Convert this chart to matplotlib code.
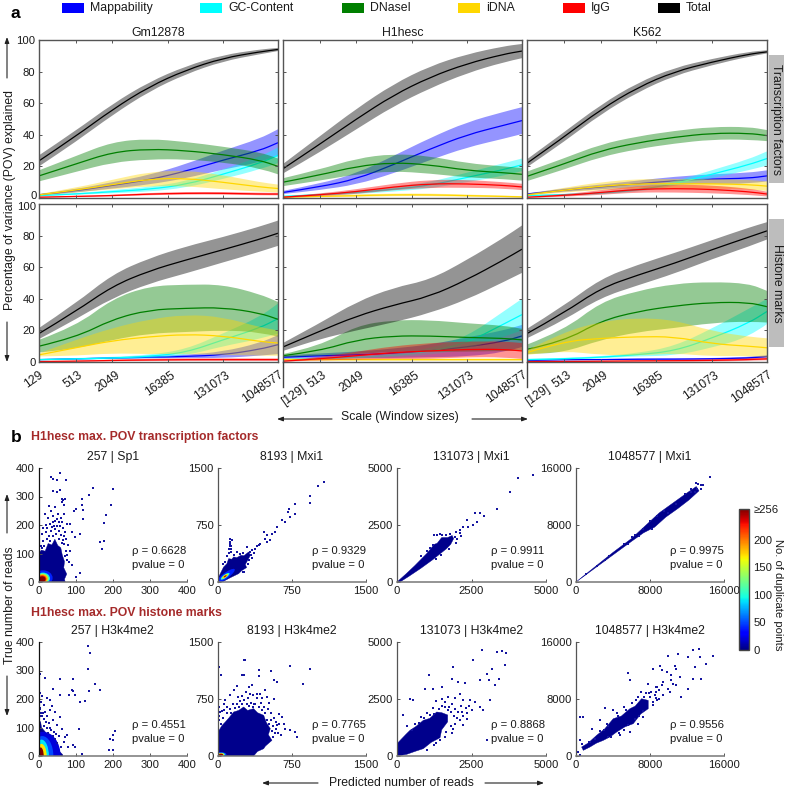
import matplotlib
matplotlib.use("Agg")
import matplotlib.pyplot as plt
from matplotlib.patches import Rectangle, Polygon, Ellipse, PathPatch
from matplotlib.path import Path
from matplotlib.cm import ScalarMappable
from matplotlib.colors import Normalize

plt.rcParams['font.family'] = ['Liberation Sans', 'DejaVu Sans']
W, H = 785, 791
TXT = '#1a1a1a'
FS = 8.8
FS_TICK = 8.1

scales = [129, 513, 2049, 8193, 32769, 131073, 524289, 1048577]
tick_scales = [129, 513, 2049, 16385, 131073, 1048577]
tick_names = ['129', '513', '2049', '16385', '131073', '1048577']

# POV means and half band widths, one pair per signal and panel
gm_tf_map = [2, 4.5, 8, 11.5, 17, 24, 30, 35]
gm_tf_map_w = [.5, 1, 2, 3, 4.5, 6, 7.5, 8.5]
gm_tf_gc = [1.5, 2.5, 4, 5.5, 8.5, 15, 22, 27]
gm_tf_gc_w = [.5, .5, 1, 1.5, 2, 3, 4, 5]
gm_tf_dn = [14, 21.5, 29, 31, 30, 27.5, 24, 20]
gm_tf_dn_w = [3.5, 5, 6.5, 6.5, 5.5, 5, 5, 5]
gm_tf_id = [2, 5, 8.5, 12, 12.5, 10, 7, 6]
gm_tf_id_w = [.5, 1.5, 3, 4.5, 5, 4.5, 3, 2.5]
gm_tf_ig = [.5, 1, 1.5, 2.5, 3, 3, 2.5, 2.5]
gm_tf_ig_w = [.3, .3, .5, .7, .8, .8, .8, .8]
gm_tf_tot = [23.5, 39, 56, 70.5, 81, 88.5, 92.5, 94]
gm_tf_tot_w = [3.5, 3.5, 3.5, 3, 2.5, 2, 1.5, 1]

h1_tf_map = [3.5, 7, 12, 21, 31, 40, 46, 49]
h1_tf_map_w = [1, 2, 3.5, 5.5, 7, 8, 8.5, 8.5]
h1_tf_gc = [1, 2, 3.5, 5.5, 8, 13, 18, 21]
h1_tf_gc_w = [.5, .5, 1, 1.5, 2, 3, 4, 4]
h1_tf_dn = [10, 14.5, 20, 22.5, 21, 17.5, 16, 15]
h1_tf_dn_w = [2.5, 3.5, 5, 5.5, 5.5, 4.5, 4, 4]
h1_tf_id = [.5, 1, 1.5, 2, 2, 1.5, 1, .7]
h1_tf_id_w = [.3, .5, .8, .8, .8, .7, .5, .5]
h1_tf_ig = [.5, 2, 4, 7, 9, 9, 8, 7]
h1_tf_ig_w = [.3, .8, 1.5, 2, 2.5, 2.5, 2, 2]
h1_tf_tot = [18.5, 34, 50, 65, 76.5, 85, 91, 93]
h1_tf_tot_w = [3, 5, 6.5, 7, 7, 6, 5, 4.5]

k5_tf_map = [2.5, 5, 7, 9, 11, 12, 12.5, 14]
k5_tf_map_w = [.5, 1, 1.5, 2, 2.5, 3, 3.5, 3.5]
k5_tf_gc = [1.5, 2, 3, 5, 9, 15, 21, 25]
k5_tf_gc_w = [.5, .5, .7, 1, 1.5, 2.5, 3.5, 4.5]
k5_tf_dn = [13.7, 21.5, 30, 35, 38.5, 41, 41, 39.5]
k5_tf_dn_w = [3, 3.5, 4, 4, 4, 4, 4, 3.5]
k5_tf_id = [2, 5, 7.5, 9, 9, 9, 8.5, 7.5]
k5_tf_id_w = [.5, 1.5, 2.5, 3, 3, 3, 3, 3]
k5_tf_ig = [.5, 1.5, 3.5, 5.5, 6, 5.5, 4, 2.5]
k5_tf_ig_w = [.3, .7, 1.5, 2, 2.5, 2.5, 2, 1.5]
k5_tf_tot = [22, 38.5, 56, 70, 80, 86, 91, 92.5]
k5_tf_tot_w = [2.5, 3, 3, 3, 2.5, 2, 1.5, 1]

gm_hm_map = [1.5, 2, 2.5, 3, 3.5, 4.5, 8, 11]
gm_hm_map_w = [.3, .4, .5, .7, 1, 2, 4, 6]
gm_hm_gc = [1.5, 2, 2.5, 3.5, 6, 14, 21.5, 27.5]
gm_hm_gc_w = [.5, .5, .7, 1, 2, 4, 7, 9.5]
gm_hm_dn = [10, 15.5, 27, 33, 34, 34.5, 31, 27]
gm_hm_dn_w = [4, 7, 13, 15, 15, 14.5, 12, 11]
gm_hm_id = [4.5, 9, 13.5, 16, 17.5, 16.5, 13, 12]
gm_hm_id_w = [1, 5, 8, 11, 12.5, 12, 9, 8]
gm_hm_ig = [.3, .5, 1, 1.3, 1.5, 1.5, 1.5, 1.5]
gm_hm_ig_w = [.3, .3, .5, .7, .8, .8, .8, .8]
gm_hm_tot = [18, 32, 48, 57.7, 64.6, 71, 77.7, 81.5]
gm_hm_tot_w = [3.5, 5, 7.5, 8, 8.5, 8, 8, 8]

h1_hm_map = [3, 4, 4.5, 5.5, 7, 9.5, 13, 16.5]
h1_hm_map_w = [1, 1.5, 2, 3, 4, 6, 7, 7]
h1_hm_gc = [1.5, 2, 3, 4, 6.5, 12, 24, 30]
h1_hm_gc_w = [.5, .5, .7, 1, 2, 4, 8, 10]
h1_hm_dn = [4, 7, 14, 16.5, 16.5, 15.5, 15, 14]
h1_hm_dn_w = [1, 3, 9, 10, 10, 9, 8, 7]
h1_hm_id = [1.5, 1.5, 1.5, 1.5, 1.5, 1.5, 1.5, 1.5]
h1_hm_id_w = [.7, .7, .7, .7, .7, .7, .7, .7]
h1_hm_ig = [.5, 2, 4, 6, 7, 8, 8, 7]
h1_hm_ig_w = [.3, 1, 2.5, 4, 5, 5, 5, 5]
h1_hm_tot = [9.5, 19.5, 29, 36, 41.5, 52, 64.6, 71.4]
h1_hm_tot_w = [2.5, 5, 9, 11, 10.5, 12.5, 14, 15]

k5_hm_map = [1, 1.5, 1.5, 1.8, 1.8, 2, 2.5, 3.5]
k5_hm_map_w = [.3, .3, .3, .4, .4, .5, .7, .8]
k5_hm_gc = [1.5, 2, 3, 4.6, 7, 15, 24.6, 32]
k5_hm_gc_w = [.5, .5, .7, 1, 3, 6, 9, 8]
k5_hm_dn = [8, 13, 26, 32, 35.5, 37.7, 37.7, 35]
k5_hm_dn_w = [3, 7, 12, 13, 14, 13, 12, 10]
k5_hm_id = [6, 13, 15, 16, 16, 11.6, 10, 9]
k5_hm_id_w = [1.5, 6, 10.5, 12, 10.5, 8, 6, 6]
k5_hm_ig = [.3, .3, .5, .7, .8, 1, 1.5, 2]
k5_hm_ig_w = [.3, .3, .3, .4, .5, .7, .8, .9]
k5_hm_tot = [18, 31, 46.7, 55, 62.5, 71, 79, 83]
k5_hm_tot_w = [3, 4.5, 6, 6.5, 6.5, 6, 6, 5.5]

sp1_blob = [(0, 0), (0, 100), (8, 112), (18, 108), (26, 135), (36, 130), (44, 150), (52, 128), (60, 120), (64, 95),
            (70, 72), (68, 50), (76, 28), (70, 10), (72, 0)]
sp1_pts = [(33, 368), (40, 362), (58, 382), (49, 359), (75, 359), (39, 319), (49, 316), (58, 322), (63, 292),
           (67, 287), (72, 292), (63, 281), (117, 290), (135, 304), (146, 330), (202, 327), (102, 257), (117, 269),
           (121, 251), (96, 249), (195, 269), (182, 236), (177, 208), (121, 220), (76, 205), (84, 205), (90, 175),
           (111, 170), (166, 140), (177, 144), (171, 117), (99, 158), (112, 32), (102, 18), (68, 270), (45, 262),
           (28, 265), (33, 248), (18, 240), (25, 225), (40, 232), (52, 240), (60, 225), (70, 240), (62, 210),
           (45, 215), (30, 205), (20, 200), (12, 190), (36, 192), (50, 198), (66, 190), (72, 175), (10, 170),
           (20, 175), (75, 150), (80, 130), (85, 110), (78, 95), (82, 70), (90, 60), (12, 145), (6, 125),
           (40, 212), (34, 178), (44, 185), (56, 178), (28, 160), (48, 170), (60, 165), (66, 148), (70, 132),
           (22, 150), (16, 128), (30, 145), (56, 150), (62, 138), (74, 110), (72, 92), (42, 198), (24, 188),
           (54, 210), (38, 160), (68, 160), (78, 78), (10, 118), (57, 195), (50, 222)]
mxi8_blob = [(0, 0), (7, 66), (57, 197), (90, 240), (108, 307), (140, 300), (159, 330), (190, 320), (233, 351), (262, 345),
             (311, 395), (328, 351), (277, 230), (290, 190), (240, 150), (209, 110), (125, 57), (41, 0)]
mxi8_pts = [(1071, 1316), (1010, 1263), (936, 1127), (936, 1039), (784, 1030), (716, 965), (784, 899), (733, 855),
            (706, 921), (649, 811), (682, 789), (598, 724), (581, 658), (547, 636), (497, 614), (480, 570), (463, 658),
            (412, 482), (429, 495), (378, 439), (294, 461), (118, 561), (142, 548), (125, 504), (132, 439), (108, 439),
            (193, 395), (226, 373), (328, 395), (334, 351), (497, 526), (530, 548), (395, 469), (267, 132), (311, 285),
            (125, 530), (135, 480), (118, 470), (128, 400), (115, 380), (90, 340), (160, 360), (250, 380), (345, 420),
            (360, 380), (340, 320), (300, 240), (70, 260), (50, 240), (250, 130)]
mxi131_blob = [(0, 0), (300, 350), (600, 720), (1000, 1250), (1250, 1650), (1350, 1700), (1500, 1950), (1700, 1950),
               (1850, 2040), (1900, 1900), (1800, 1650), (1650, 1450), (1200, 980), (800, 600), (400, 250), (100, 0)]
mxi131_pts = [(4564, 4693), (4060, 4561), (3792, 3960), (3356, 3202), (2617, 3026), (2785, 3026), (2919, 2895),
              (2685, 2632), (2550, 2500), (2349, 2719), (2215, 2412), (2383, 2412), (2130, 2300), (1510, 2061),
              (1208, 1622), (1990, 2200), (2100, 2150), (1250, 2070), (1350, 2050), (1450, 2110), (1120, 1500),
              (1000, 1380), (800, 1130), (1650, 2080), (1780, 2100), (1950, 1980), (2020, 1880), (1980, 1720),
              (1750, 1450), (1480, 1180), (1300, 1000), (2150, 2000)]
mxi104_blob = [(0, 0), (4000, 4150), (6000, 6100), (7000, 7300), (7500, 7900), (9000, 9700), (10500, 11100), (12000, 12500), (13000, 13400),
               (13300, 12800), (12200, 11500), (11000, 10300), (9700, 9100), (8500, 7700), (7300, 6900), (6000, 5700), (2000, 1900)]
mxi104_pts = [(14530, 14720), (13020, 13880), (13560, 13550), (13740, 13550), (13130, 13080), (12840, 12620),
              (12480, 13000), (11800, 12300), (1100, 1150), (2300, 2200), (3100, 3050), (5200, 5300), (6100, 6350),
              (6800, 6500), (7200, 7450), (13500, 13100), (13200, 13700), (12400, 12700), (10800, 11000), (9500, 10000),
              (8800, 9300), (8000, 8500), (9900, 9700), (8200, 7500), (6400, 6600), (5600, 5400), (3600, 3700)]
h3_257_blob = [(0, 0), (0, 130), (6, 118), (8, 100), (18, 85), (25, 60), (32, 50), (45, 25), (55, 18), (65, 5), (65, 0)]
h3_257_pts = [(132, 385), (139, 363), (132, 304), (153, 251), (165, 230), (135, 227), (90, 233), (94, 228), (94, 269),
              (58, 271), (40, 236), (81, 213), (99, 213), (112, 189), (124, 193), (58, 214), (18, 274), (4, 287),
              (205, 87), (202, 72), (193, 61), (200, 55), (191, 22), (200, 22), (108, 96), (76, 73), (72, 67), (94, 37),
              (99, 32), (117, 8), (58, 137), (45, 154), (31, 160), (10, 210), (22, 205), (30, 195), (15, 180), (36, 175),
              (5, 165), (12, 150), (24, 140), (40, 125), (50, 110), (28, 115), (62, 95), (42, 85), (55, 70), (70, 50),
              (80, 30), (3, 220), (8, 190), (18, 155), (30, 100), (38, 70), (5, 140), (14, 130), (20, 118), (34, 92),
              (44, 60), (50, 46), (60, 32), (16, 105), (24, 98), (10, 140), (3, 170), (6, 152), (26, 80), (48, 78)]
h3_8k_blob = [(0, 0), (0, 316), (40, 400), (74, 447), (110, 500), (159, 579), (210, 600), (260, 645), (300, 600), (361, 623),
              (400, 570), (463, 535), (490, 440), (530, 360), (510, 280), (547, 206), (480, 130), (463, 96), (400, 60), (361, 0)]
h3_8k_pts = [(277, 1268), (260, 1259), (7, 1171), (34, 1061), (243, 1061), (260, 1061), (412, 1136), (541, 1114),
             (726, 1180), (929, 1149), (412, 1048), (564, 996), (598, 974), (861, 952), (193, 917), (311, 908),
             (345, 930), (480, 864), (497, 776), (564, 754), (429, 820), (159, 864), (118, 798), (666, 425), (733, 338),
             (784, 316), (801, 250), (615, 557), (649, 513), (598, 404), (682, 360), (7, 469), (24, 579), (57, 689),
             (74, 732), (300, 760), (350, 800), (260, 740), (220, 720), (190, 690), (395, 760), (440, 700), (470, 650),
             (510, 620), (540, 560), (570, 500), (590, 450), (575, 300), (560, 250), (590, 350), (150, 680), (120, 620),
             (90, 560), (50, 500), (30, 420), (15, 520), (330, 700), (420, 640), (500, 480), (520, 420), (380, 680),
             (290, 690), (240, 680), (210, 650), (170, 630), (130, 570), (360, 690), (450, 600), (480, 560), (540, 470),
             (555, 400), (545, 330), (620, 420), (610, 300), (640, 280), (280, 840), (240, 790), (200, 780), (320, 820),
             (400, 810), (450, 760), (520, 700), (90, 640), (60, 610), (40, 590), (10, 640), (350, 640), (310, 660)]
h3_131_blob = [(0, 0), (0, 540), (300, 950), (436, 1126), (640, 1300), (883, 1564), (1100, 1650), (1331, 1930), (1500, 1900), (1700, 1800),
               (1700, 1500), (1500, 1150), (1443, 800), (1150, 600), (883, 322), (600, 200), (324, 73)]
h3_131_pts = [(2864, 4634), (3345, 4561), (3512, 4605), (3658, 4517), (2539, 4196), (1868, 3903), (1085, 3538),
              (3177, 3830), (3031, 3611), (3624, 3977), (3098, 3319), (3434, 3392), (3289, 3099), (2785, 3319),
              (2282, 3202), (2058, 3246), (1834, 3392), (1499, 3026), (1220, 2953), (940, 2953), (436, 2515), (548, 2442),
              (213, 1784), (2785, 2149), (3121, 2442), (2618, 2368), (2450, 2442), (2226, 2442), (2897, 2003), (2338, 1637),
              (2226, 1345), (1890, 1199), (3009, 687), (2170, 1930), (1500, 2500), (1700, 2600), (1950, 2550), (2100, 2700),
              (1300, 2400), (1600, 2350), (2400, 2200), (2500, 2000), (2350, 1900), (2200, 1750), (2100, 1600), (1000, 1900),
              (1200, 2100), (800, 1700), (600, 1400), (350, 1300), (1850, 1000), (1600, 850), (1300, 550),
              (1750, 2150), (1850, 2300), (1950, 2050), (2050, 1950), (1800, 1950), (1900, 1750), (2000, 1650), (1950, 1400),
              (1800, 1300), (1650, 1050), (1500, 2200), (1400, 2050), (1250, 1850), (1100, 1800), (900, 1650), (750, 1450),
              (500, 1150), (1700, 2000), (1600, 2150), (2150, 2200), (2300, 2100), (1450, 680), (1250, 480), (1000, 280)]
h3_104_blob = [(611, 1262), (1300, 1800), (2230, 2897), (3100, 3800), (4029, 5234), (4900, 5600), (5827, 6636), (6400, 7000), (7086, 8037), (7806, 7804), (7806, 6636),
               (7000, 5900), (6187, 4533), (5300, 4100), (4388, 3364), (3700, 2700), (2950, 2196), (2200, 1800), (1511, 1262), (791, 794)]
h3_104_pts = [(13309, 15047), (12662, 14813), (11043, 14346), (9892, 13972), (12122, 13879), (13381, 13879), (14820, 14019),
              (14101, 12944), (12842, 12477), (9065, 12617), (10683, 12617), (10863, 12243), (8345, 12243), (9245, 12009),
              (9784, 11776), (10324, 11308), (11223, 11075), (13561, 10841), (12662, 10841), (12122, 9439), (10504, 10140),
              (9424, 10374), (8705, 9673), (7806, 10140), (5647, 11635), (5827, 10607), (11403, 8271), (10144, 8972),
              (9424, 8505), (8705, 7804), (8345, 7103), (3129, 6776), (432, 5467), (720, 5467), (4029, 6402), (2590, 5000),
              (1690, 3832), (432, 2196), (6727, 4533), (7266, 5467), (5827, 3364), (4748, 2897), (432, 93), (252, 561),
              (612, 1729), (3489, 2664), (8100, 9000), (8500, 8600), (7600, 8800), (7000, 9000), (9000, 9300), (8000, 8300),
              (6500, 7800), (5200, 6900), (4400, 6000), (3400, 4500), (2600, 3500), (6800, 5600), (5600, 4300), (1400, 2000),
              (8300, 7600), (8600, 8200), (7400, 8300), (7900, 8900), (8700, 9000), (6700, 8300), (6000, 7400), (5400, 6400),
              (4500, 5600), (3500, 4200), (3000, 3600), (2000, 2400), (1500, 1900), (7200, 6300), (6400, 5200), (5200, 3700),
              (4600, 3200), (3800, 2600), (8600, 9700), (9300, 10000), (9900, 9400), (10300, 10700), (10800, 10000), (9000, 8000)]

# hot core of the dense panels: centre, width, height, angle, count
sp1_core = [(12, 14, 52, 54, 0, 40), (12, 13, 38, 40, 0, 90), (11, 12, 34, 36, 0, 130), (11, 12, 28, 30, 0, 180),
            (10, 11, 23, 25, 0, 220), (10, 10, 18, 20, 0, 256)]
mxi8_core = [(75, 78, 260, 70, 45, 40), (72, 75, 120, 40, 45, 100), (72, 75, 80, 28, 45, 170), (72, 75, 40, 16, 45, 240)]
h3_257_core = [(12, 0, 95, 170, 0, 20), (10, 0, 60, 140, 0, 50), (8, 0, 40, 115, 0, 90), (8, 0, 28, 85, 0, 170),
               (6, 0, 16, 60, 0, 256)]
h3_8k_core = [(30, 20, 110, 60, 0, 50), (30, 20, 80, 44, 0, 110), (30, 20, 60, 34, 0, 170), (30, 18, 44, 26, 0, 250)]

sc_titles = ['257 | Sp1', '8193 | Mxi1', '131073 | Mxi1', '1048577 | Mxi1',
             '257 | H3k4me2', '8193 | H3k4me2', '131073 | H3k4me2', '1048577 | H3k4me2']
sc_rho = ['0.6628', '0.9329', '0.9911', '0.9975', '0.4551', '0.7765', '0.8868', '0.9556']
sc_lims = [400, 1500, 5000, 16000]
sc_ticks = [[0, 100, 200, 300, 400], [0, 750, 1500], [0, 2500, 5000], [0, 8000, 16000]]
sig_names = ['Mappability', 'GC-Content', 'DNaseI', 'iDNA', 'IgG', 'Total']
sig_colors = ['#0000ff', '#00ffff', '#007f00', '#ffd700', '#ff0000', '#000000']
cell_names = ['Gm12878', 'H1hesc', 'K562']
cb_ticks = [0, 50, 100, 150, 200, 256]
cb_names = ['0', '50', '100', '150', '200', '≥256']

POV = [[[(gm_tf_map, gm_tf_map_w), (gm_tf_gc, gm_tf_gc_w), (gm_tf_dn, gm_tf_dn_w), (gm_tf_id, gm_tf_id_w), (gm_tf_ig, gm_tf_ig_w), (gm_tf_tot, gm_tf_tot_w)],
        [(h1_tf_map, h1_tf_map_w), (h1_tf_gc, h1_tf_gc_w), (h1_tf_dn, h1_tf_dn_w), (h1_tf_id, h1_tf_id_w), (h1_tf_ig, h1_tf_ig_w), (h1_tf_tot, h1_tf_tot_w)],
        [(k5_tf_map, k5_tf_map_w), (k5_tf_gc, k5_tf_gc_w), (k5_tf_dn, k5_tf_dn_w), (k5_tf_id, k5_tf_id_w), (k5_tf_ig, k5_tf_ig_w), (k5_tf_tot, k5_tf_tot_w)]],
       [[(gm_hm_map, gm_hm_map_w), (gm_hm_gc, gm_hm_gc_w), (gm_hm_dn, gm_hm_dn_w), (gm_hm_id, gm_hm_id_w), (gm_hm_ig, gm_hm_ig_w), (gm_hm_tot, gm_hm_tot_w)],
        [(h1_hm_map, h1_hm_map_w), (h1_hm_gc, h1_hm_gc_w), (h1_hm_dn, h1_hm_dn_w), (h1_hm_id, h1_hm_id_w), (h1_hm_ig, h1_hm_ig_w), (h1_hm_tot, h1_hm_tot_w)],
        [(k5_hm_map, k5_hm_map_w), (k5_hm_gc, k5_hm_gc_w), (k5_hm_dn, k5_hm_dn_w), (k5_hm_id, k5_hm_id_w), (k5_hm_ig, k5_hm_ig_w), (k5_hm_tot, k5_hm_tot_w)]]]


def px_axes(x0, y0, x1, y1):
    return fig.add_axes([x0 / W, 1 - y1 / H, (x1 - x0) / W, (y1 - y0) / H])


def rounded(xs, ys):
    # path through the read values with rounded corners, x is on a log axis
    verts = [(xs[0], ys[0])]
    codes = [Path.MOVETO]
    for i in range(1, len(xs) - 1):
        xm = (xs[i] * xs[i + 1]) ** 0.5
        ym = (ys[i] + ys[i + 1]) / 2
        verts += [(xs[i], ys[i]), (xm, ym)]
        codes += [Path.CURVE3, Path.CURVE3]
    verts.append((xs[-1], ys[-1]))
    codes.append(Path.LINETO)
    return verts, codes


def band(ax, mean, half, col):
    lo = [m - h for m, h in zip(mean, half)]
    hi = [m + h for m, h in zip(mean, half)]
    v1, c1 = rounded(scales, hi)
    v2, c2 = rounded(scales[::-1], lo[::-1])
    c2[0] = Path.LINETO
    verts = v1 + v2 + [v2[-1]]
    codes = c1 + c2 + [Path.CLOSEPOLY]
    ax.add_patch(PathPatch(Path(verts, codes), facecolor=col, edgecolor='none', alpha=0.42))
    v, c = rounded(scales, mean)
    ax.add_patch(PathPatch(Path(v, c), facecolor='none', edgecolor=col, lw=0.9))


fig = plt.figure(figsize=(W / 100, H / 100), dpi=100)

# overlay in pixel coordinates for the free labels and arrows
ov = fig.add_axes([0, 0, 1, 1], zorder=5)
ov.set_xlim(0, W)
ov.set_ylim(H, 0)
ov.axis('off')


def label(x, y, s, **kw):
    kw.setdefault('fontsize', FS)
    kw.setdefault('color', TXT)
    kw.setdefault('ha', 'center')
    kw.setdefault('va', 'center')
    ov.text(x, y, s, **kw)


def arrow(x0, y0, x1, y1):
    ov.annotate('', xy=(x1, y1), xytext=(x0, y0),
                arrowprops=dict(arrowstyle='-|>,head_width=0.13,head_length=0.35', lw=0.8, color='#222222',
                                shrinkA=0, shrinkB=0))


# panel a
col_x = [(39, 278), (283, 522), (527, 767)]
row_y = [(40, 198), (204, 362)]
for r, (y0, y1) in enumerate(row_y):
    for c, (x0, x1) in enumerate(col_x):
        ax = px_axes(x0, y0, x1, y1)
        ax.set_xscale('log', base=2)
        for (mean, half), col in zip(POV[r][c], sig_colors):
            band(ax, mean, half, col)
        ax.set_xlim(129, 1048577)
        ax.set_ylim(0, 100)
        ax.set_xticks(tick_scales)
        ax.set_xticklabels([])
        ax.minorticks_off()
        ax.set_yticks([0, 20, 40, 60, 80, 100])
        ax.tick_params(direction='in', top=True, right=True, length=2, width=0.7, color='#555555',
                       labelsize=FS_TICK, labelcolor=TXT, pad=2.5)
        if c > 0:
            ax.set_yticklabels([])
        elif r == 0:
            ax.set_yticklabels(['', '20', '40', '60', '80', '100'])
            label(36.5, 196, '0', ha='right', fontsize=FS_TICK)
        else:
            ax.set_yticklabels(['0', '20', '40', '60', '80', ''])
            label(36.5, 207, '100', ha='right', fontsize=FS_TICK)
        for s in ax.spines.values():
            s.set_color('#555555')
            s.set_linewidth(1)
        if r == 0:
            ax.set_title(cell_names[c], fontsize=FS, color=TXT, pad=3)
        else:
            for t, name in zip(tick_scales, tick_names):
                dx, dy = 2, -5
                if name == '129':
                    dx = 0
                    if c > 0:
                        name = '[129]'
                        dx, dy = 13, -15
                elif name == '1048577':
                    dx = 0.5
                ax.annotate(name, (t, 0), xycoords=ax.get_xaxis_transform(), xytext=(dx, dy),
                            textcoords='offset points', rotation=35, rotation_mode='anchor',
                            ha='right', va='top', fontsize=FS, color=TXT, annotation_clip=False)
ov.plot([283, 283], [362, 387], color='#444444', lw=1)
ov.plot([527, 527], [362, 387], color='#444444', lw=1)

leg_x = [62, 200, 342, 458, 563, 658]
for x, name, col in zip(leg_x, sig_names, sig_colors):
    ov.add_patch(Rectangle((x, 2.5), 22, 10.5, color=col, lw=0))
    label(x + 28, 8, name, ha='left')

for y0, y1, name in [(55, 183, 'Transcription factors'), (219, 347, 'Histone marks')]:
    ov.add_patch(Rectangle((769, y0), 15, y1 - y0, color='#bdbdbd', lw=0))
    label(776.5, (y0 + y1) / 2, name, rotation=270)

label(15, 13, 'a', fontsize=12.5, fontweight='bold', color='black')
label(16, 437, 'b', fontsize=12.5, fontweight='bold', color='black')
label(10, 200, 'Percentage of variance (POV) explained', rotation=90)
arrow(7, 78, 7, 37)
arrow(7, 322, 7, 362)
label(400, 417, 'Scale (Window sizes)')
arrow(332, 419, 277, 419)
arrow(472, 419, 528, 419)

# panel b
sc_x = [(38.5, 187), (218, 366), (397, 546), (576, 724)]
sc_y = [(468, 582), (642, 756)]
sc_blobs = [sp1_blob, mxi8_blob, mxi131_blob, mxi104_blob, h3_257_blob, h3_8k_blob, h3_131_blob, h3_104_blob]
sc_pts = [sp1_pts, mxi8_pts, mxi131_pts, mxi104_pts, h3_257_pts, h3_8k_pts, h3_131_pts, h3_104_pts]
sc_core = {0: sp1_core, 1: mxi8_core, 4: h3_257_core, 5: h3_8k_core}
jet_norm = Normalize(0, 256)
jet = plt.get_cmap('jet')
NAVY = '#00008c'

for i in range(8):
    r, c = i // 4, i % 4
    x0, x1 = sc_x[c]
    y0, y1 = sc_y[r]
    ax = px_axes(x0, y0, x1, y1)
    ax.add_patch(Polygon(sc_blobs[i], closed=True, color=NAVY, lw=0.3))
    if i in sc_core:
        for cx, cy, w, h, ang, n in sc_core[i]:
            ax.add_patch(Ellipse((cx, cy), w, h, angle=ang, color=jet(jet_norm(n)), lw=0))
    ax.scatter([p[0] for p in sc_pts[i]], [p[1] for p in sc_pts[i]], s=0.9, marker='s', color='#1414a0', lw=0)
    ax.set_xlim(0, sc_lims[c])
    ax.set_ylim(0, sc_lims[c])
    ax.set_xticks(sc_ticks[c])
    ax.set_yticks(sc_ticks[c])
    ax.tick_params(direction='in', length=2, width=0.7, color='#555555', labelsize=FS_TICK, labelcolor=TXT, pad=3)
    ax.spines['top'].set_visible(False)
    ax.spines['right'].set_visible(False)
    ax.spines['left'].set_color('#111111' if c == 0 else '#555555')
    ax.spines['bottom'].set_color('#777777')
    ax.spines['left'].set_linewidth(0.9)
    ax.spines['bottom'].set_linewidth(1.1)
    label((x0 + x1) / 2, y0 - 11, sc_titles[i])
    label(x0 + 94, y0 + 83, 'ρ = ' + sc_rho[i], ha='left', fontsize=FS_TICK)
    label(x0 + 94, y0 + 97, 'pvalue = 0', ha='left', fontsize=FS_TICK)

label(31, 437, 'H1hesc max. POV transcription factors', ha='left', fontweight='bold', color='#a52a2a')
label(31, 613, 'H1hesc max. POV histone marks', ha='left', fontweight='bold', color='#a52a2a')
label(10, 605, 'True number of reads', rotation=90)
arrow(7, 533, 7, 494)
arrow(7, 676, 7, 716)
label(401, 783, 'Predicted number of reads')
arrow(318, 783, 262, 783)
arrow(485, 783, 544, 783)

cax = px_axes(739, 509, 749, 650)
cb = fig.colorbar(ScalarMappable(norm=jet_norm, cmap=jet), cax=cax)
cb.set_ticks(cb_ticks)
cb.set_ticklabels(cb_names)
cb.ax.tick_params(length=0, labelsize=FS_TICK, labelcolor=TXT, pad=3)
cb.outline.set_edgecolor('#444444')
cb.outline.set_linewidth(1)
label(778, 595, 'No. of duplicate points', rotation=270, fontsize=FS_TICK)

fig.savefig('out.png', dpi=100)
